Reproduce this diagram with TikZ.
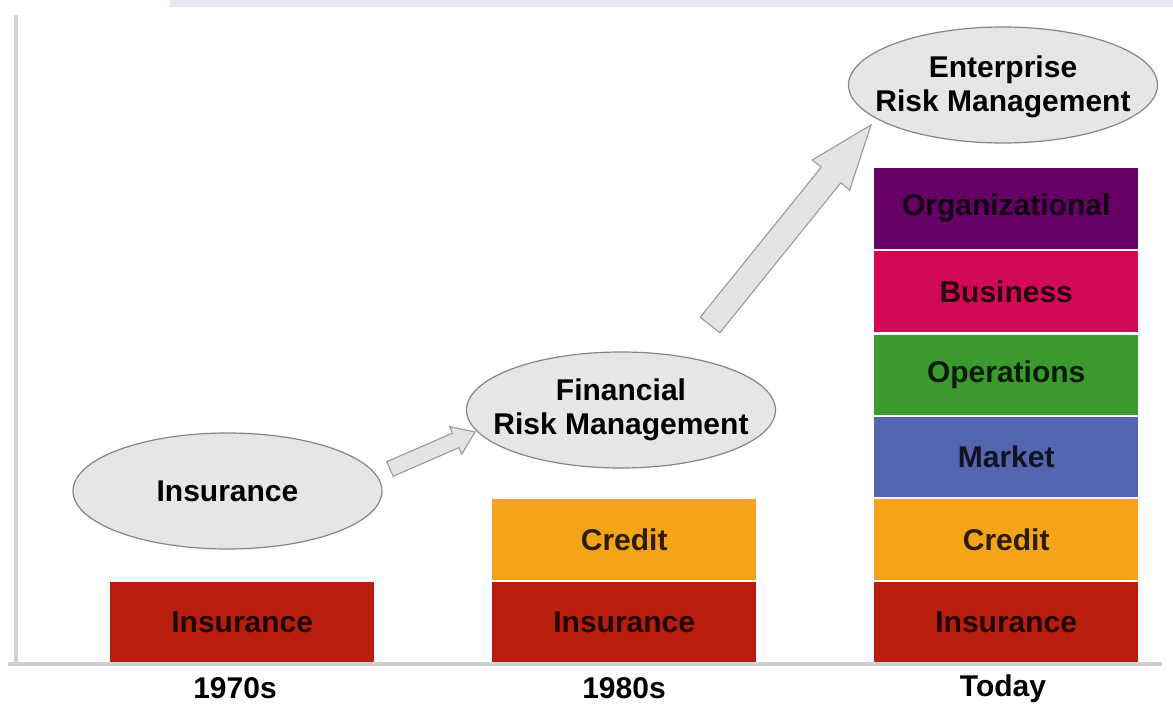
\documentclass[tikz,border=0pt]{standalone}
\usepackage{fontspec}
\setmainfont{Liberation Sans}
\usetikzlibrary{shapes.geometric}
\definecolor{insred}{HTML}{B81E0E}
\definecolor{credorange}{HTML}{F4A31B}
\definecolor{mktblue}{HTML}{5465B0}
\definecolor{opsgreen}{HTML}{3A9A2E}
\definecolor{busred}{HTML}{D20A55}
\definecolor{orgpurple}{HTML}{660066}
\definecolor{ellfill}{HTML}{E6E6E6}
\definecolor{ellline}{HTML}{858585}
\definecolor{arrfill}{HTML}{E4E4E4}
\definecolor{arrline}{HTML}{9A9A9A}
\definecolor{axisgray}{HTML}{D2D2D2}
\definecolor{band}{HTML}{E6E8F5}
\tikzset{
  lbl/.style={font=\fontsize{30}{34}\selectfont\bfseries},
  bubble/.style={ellipse, draw=ellline, line width=1.2pt, fill=ellfill, minimum width=309pt, minimum height=116pt, inner sep=0pt},
  bubbletext/.style={lbl, align=center, inner sep=0pt},
  seg/.style={rectangle, minimum width=264pt, inner sep=0pt, anchor=north west, lbl, text=black, text opacity=0.82},
  blockarrow/.style={draw=arrline, line width=1.1pt, fill=arrfill, line join=miter},
  axisline/.style={draw=axisgray, line width=3.5pt},
  yearlbl/.style={lbl}
}
\begin{document}
\begin{tikzpicture}[x=1pt,y=-1pt]
\useasboundingbox (0,0) rectangle (1173,711);
\fill[white] (0,0) rectangle (1173,711);
% top band
\fill[band] (170,0) rectangle (1173,7);
% axes
\coordinate (vtop) at (16,15);
\coordinate (origin) at (16,664);
\coordinate (hleft) at (8,664);
\coordinate (hright) at (1162,664);
\draw[axisline] (vtop) -- (origin);
\draw[axisline] (hleft) -- (hright);

% bars 1970s
\node[seg, fill=insred, minimum height=80pt] (i70) at (110,582) {Insurance};
% bars 1980s
\node[seg, fill=credorange, minimum height=81pt] (c80) at (492,499) {Credit};
\node[seg, fill=insred, minimum height=80pt] (i80) at (492,582) {Insurance};
% bars Today
\node[seg, fill=orgpurple, minimum height=81pt] (orgT) at (874,167.5) {Organizational};
\node[seg, fill=busred, minimum height=81pt] (busT) at (874,251) {Business};
\node[seg, fill=opsgreen, minimum height=80pt] (opsT) at (874,334.5) {Operations};
\node[seg, fill=mktblue, minimum height=80pt] (mktT) at (874,416.5) {Market};
\node[seg, fill=credorange, minimum height=81pt] (cT) at (874,499) {Credit};
\node[seg, fill=insred, minimum height=80pt] (iT) at (874,582) {Insurance};

% years
\node[yearlbl] (y70) at (235,688) {1970s};
\node[yearlbl] (y80) at (624,688) {1980s};
\node[yearlbl] (yT) at (1003,689) {Today};

% ellipses
\node[bubble] (eIns) at (227.5,491) {};
\node[bubbletext] (tIns) at (eIns.center) {Insurance};
\node[bubble] (eFin) at (621,410) {};
\node[bubbletext] (tFin) at (621,410) {Financial\\Risk Management};
\node[bubble] (eEnt) at (1003,85) {};
\node[bubbletext] (tEnt) at (1003,87) {Enterprise\\Risk Management};

% block arrows
\draw[blockarrow] (393.2,476.3) -- (386.8,461.7) -- (452.5,433.1) -- (449.7,426.6)
  -- (475,432) -- (461.7,454.2) -- (458.9,447.7) -- cycle;
\draw[blockarrow] (719.8,332.8) -- (700.2,317.2) -- (821.2,167.2) -- (812.3,160)
  -- (871,125) -- (849.7,190) -- (840.8,182.8) -- cycle;
\end{tikzpicture}
\end{document}
